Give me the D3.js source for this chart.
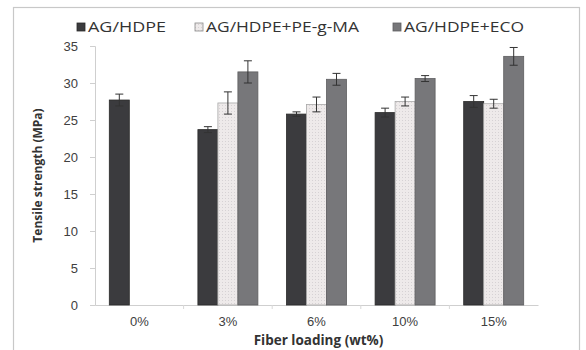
<!DOCTYPE html>
<html>
<head>
<meta charset="utf-8">
<script src="https://cdn.jsdelivr.net/npm/d3@7"></script>
<style>
  html, body { margin: 0; padding: 0; background: #fff; }
  svg { display: block; font-family: "Open Sans", "Liberation Sans", sans-serif; }
</style>
</head>
<body>
<svg id="chart" width="586" height="350"></svg>
<script>
// ---- data ------------------------------------------------------------------
const categories = ["0%", "3%", "6%", "10%", "15%"];
const seriesNames = ["AG/HDPE", "AG/HDPE+PE-g-MA", "AG/HDPE+ECO"];
// null = no bar for that loading
const agHdpe     = [27.7, 23.7, 25.8, 26.0, 27.5];
const agHdpeMa   = [null, 27.3, 27.1, 27.5, 27.2];
const agHdpeEco  = [null, 31.5, 30.5, 30.6, 33.6];
const errHdpe    = [0.8, 0.4, 0.3, 0.6, 0.8];
const errMa      = [null, 1.5, 1.0, 0.6, 0.6];
const errEco     = [null, 1.5, 0.8, 0.4, 1.2];
const yTicks = [0, 5, 10, 15, 20, 25, 30, 35];

const seriesValues = [agHdpe, agHdpeMa, agHdpeEco];
const seriesErrors = [errHdpe, errMa, errEco];
const fills = ["#3b3b3e", "url(#dots)", "#77777a"];
const strokes = ["#2a2a2a", "#a8a8a8", "#5e5e60"];

const svg = d3.select("#chart");
const margin = { left: 95, right: 48, top: 46, bottom: 45 };
const W = 586, H = 350;

// dotted fill of the middle series
const defs = svg.append("defs");
const pat = defs.append("pattern").attr("id", "dots").attr("patternUnits", "userSpaceOnUse")
  .attr("width", 3).attr("height", 3);
pat.append("rect").attr("width", 3).attr("height", 3).attr("fill", "#eeeaea");
pat.append("rect").attr("width", 1).attr("height", 1).attr("fill", "#d6d2d4");

// outer frame
svg.append("rect").attr("x", 13.5).attr("y", 7.5).attr("width", 566).attr("height", 360)
  .attr("fill", "none").attr("stroke", "#c8c8c8").attr("stroke-width", 1.2);

const x = d3.scaleBand().domain(categories).range([margin.left, W - margin.right]).paddingInner(0).paddingOuter(0);
const x1 = d3.scaleBand().domain(d3.range(seriesNames.length)).range([-30, 30]);
const y = d3.scaleLinear().domain([0, 35]).range([H - margin.bottom, margin.top]);

// y axis
const yAxis = svg.append("g").attr("transform", `translate(${margin.left},0)`)
  .call(d3.axisLeft(y).tickValues(yTicks).tickSize(5).tickPadding(12));
yAxis.select(".domain").attr("stroke", "#cfcfcf");
yAxis.selectAll(".tick line").attr("stroke", "#cfcfcf");
yAxis.selectAll("text").attr("font-size", 13).attr("fill", "#404040");

// x axis
const xAxis = svg.append("g").attr("transform", `translate(0,${H - margin.bottom})`)
  .call(d3.axisBottom(x).tickSize(0).tickPadding(12).tickSizeOuter(0));
xAxis.select(".domain").attr("stroke", "#cfcfcf");
xAxis.selectAll("text").attr("font-size", 13).attr("fill", "#404040");
// small separators between categories
xAxis.selectAll(".sep").data(categories.slice(1)).enter().append("line")
  .attr("x1", (d) => x(d)).attr("x2", (d) => x(d)).attr("y1", 0).attr("y2", 4)
  .attr("stroke", "#d8d8d8");

// bars
seriesValues.forEach((vals, s) => {
  const g = svg.append("g");
  const rows = categories.map((c, i) => ({ c, v: vals[i], e: seriesErrors[s][i] })).filter((d) => d.v != null);
  g.selectAll("rect").data(rows).enter().append("rect")
    .attr("x", (d) => x(d.c) + x.bandwidth() / 2 + x1(s))
    .attr("y", (d) => y(d.v))
    .attr("width", x1.bandwidth())
    .attr("height", (d) => y(0) - y(d.v))
    .attr("fill", fills[s]).attr("stroke", strokes[s]).attr("stroke-width", 0.8);
  // error bars
  const cx = (d) => x(d.c) + x.bandwidth() / 2 + x1(s) + x1.bandwidth() / 2;
  g.selectAll("line.err").data(rows).enter().append("line")
    .attr("x1", cx).attr("x2", cx).attr("y1", (d) => y(d.v + d.e)).attr("y2", (d) => y(d.v - d.e))
    .attr("stroke", "#333").attr("stroke-width", 1);
  ["+", "-"].forEach((sign) => {
    g.selectAll("line.cap" + (sign === "+" ? "t" : "b")).data(rows).enter().append("line")
      .attr("x1", (d) => cx(d) - 4).attr("x2", (d) => cx(d) + 4)
      .attr("y1", (d) => y(sign === "+" ? d.v + d.e : d.v - d.e))
      .attr("y2", (d) => y(sign === "+" ? d.v + d.e : d.v - d.e))
      .attr("stroke", "#333").attr("stroke-width", 1);
  });
});

// legend (text stretched to the reference's wide face)
const legendX = [77, 195, 393];
const legendLen = [78, 153, 120];
const leg = svg.append("g").attr("font-size", 14).attr("fill", "#333");
seriesNames.forEach((n, s) => {
  leg.append("rect").attr("x", legendX[s]).attr("y", 23).attr("width", 8).attr("height", 8)
    .attr("fill", fills[s]).attr("stroke", s === 1 ? "#888" : strokes[s]).attr("stroke-width", 0.8);
  leg.append("text").attr("x", legendX[s] + 11).attr("y", 32).text(n).attr("fill", "#333")
    .attr("textLength", legendLen[s]).attr("lengthAdjust", "spacingAndGlyphs");
});

// axis titles
svg.append("text").attr("transform", `translate(42,${(y(0) + y(35)) / 2}) rotate(-90)`)
  .attr("text-anchor", "middle").attr("font-size", 12).attr("font-weight", "bold").attr("fill", "#333")
  .text("Tensile strength (MPa)");
svg.append("text").attr("x", (margin.left + W - margin.right) / 2 + 2).attr("y", 345)
  .attr("text-anchor", "middle").attr("font-size", 13.5).attr("font-weight", "bold").attr("fill", "#333")
  .text("Fiber loading (wt%)");
</script>
</body>
</html>
